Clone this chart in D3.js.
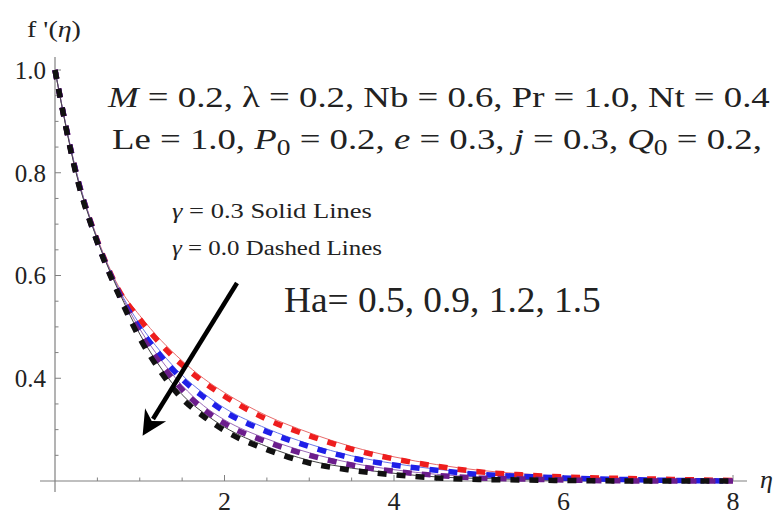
<!DOCTYPE html>
<html>
<head>
<meta charset="utf-8">
<script src="https://cdn.jsdelivr.net/npm/d3@7"></script>
<style>
  body { margin: 0; background: #fff; }
</style>
</head>
<body>
<div id="chart"></div>
<script>
// eta grid and f'(eta) values
var eta = [0, 0.25, 0.5, 0.75, 1, 1.25, 1.5, 1.75, 2, 2.5, 3, 3.5, 4, 4.5, 5, 5.5, 6, 7, 8]

// gamma = 0.0 (dashed)
var dash05 = [1.0, 0.800, 0.668, 0.572, 0.515, 0.466, 0.426, 0.393, 0.365, 0.320, 0.288, 0.262, 0.243, 0.229, 0.218, 0.212, 0.208, 0.204, 0.201]
var dash09 = [1.0, 0.800, 0.666, 0.568, 0.497, 0.443, 0.398, 0.364, 0.335, 0.296, 0.267, 0.245, 0.231, 0.221, 0.213, 0.209, 0.206, 0.202, 0.200]
var dash12 = [1.0, 0.798, 0.665, 0.566, 0.488, 0.428, 0.378, 0.340, 0.312, 0.276, 0.250, 0.231, 0.219, 0.211, 0.206, 0.204, 0.202, 0.200, 0.200]
var dash15 = [1.0, 0.796, 0.664, 0.563, 0.478, 0.412, 0.360, 0.326, 0.298, 0.261, 0.235, 0.221, 0.212, 0.206, 0.203, 0.202, 0.201, 0.200, 0.200]

// gamma = 0.3 (solid)
var solid05 = [1.0, 0.803, 0.673, 0.579, 0.522, 0.474, 0.434, 0.400, 0.372, 0.327, 0.294, 0.267, 0.247, 0.232, 0.221, 0.214, 0.209, 0.205, 0.201]
var solid09 = [1.0, 0.803, 0.671, 0.575, 0.505, 0.451, 0.406, 0.371, 0.342, 0.302, 0.272, 0.249, 0.234, 0.223, 0.215, 0.210, 0.207, 0.203, 0.200]
var solid12 = [1.0, 0.801, 0.670, 0.573, 0.496, 0.436, 0.386, 0.347, 0.319, 0.282, 0.255, 0.235, 0.222, 0.213, 0.208, 0.205, 0.203, 0.201, 0.200]
var solid15 = [1.0, 0.799, 0.669, 0.570, 0.486, 0.420, 0.368, 0.333, 0.305, 0.267, 0.240, 0.225, 0.215, 0.208, 0.205, 0.203, 0.201, 0.200, 0.200]

var dashColors = ["#ee1d1d", "#1f1fe8", "#6b1d8c", "#111111"]
var solidColors = ["#e86a6a", "#6a78e8", "#9b6ab8", "#444444"]

var xMajor = [2, 4, 6, 8]
var yMajor = [0.4, 0.6, 0.8, 1.0]
var yLabels = ["0.4", "0.6", "0.8", "1.0"]

var width = 780
var height = 515
var serif = "'Liberation Serif', 'Times New Roman', Times, serif"

var svg = d3.select("#chart").append("svg")
    .attr("width", width)
    .attr("height", height)
    .attr("font-family", serif)
    .style("font-family", serif)

var x = d3.scaleLinear().domain([0, 8]).range([55, 733])
var y = d3.scaleLinear().domain([0.2, 1.0]).range([481, 70])

var axisColor = "#808080"
var textColor = "#222"

// axes lines
svg.append("line")
    .attr("x1", 40).attr("x2", 747)
    .attr("y1", y(0.2)).attr("y2", y(0.2))
    .attr("stroke", axisColor).attr("stroke-width", 1.2)
svg.append("line")
    .attr("x1", x(0)).attr("x2", x(0))
    .attr("y1", 57).attr("y2", 492)
    .attr("stroke", axisColor).attr("stroke-width", 1.2)

// x ticks (drawn inward, upward)
var xMinor = d3.range(0.5, 8.01, 0.5)
svg.selectAll(".xtick").data(xMinor).enter().append("line")
    .attr("x1", d => x(d)).attr("x2", d => x(d))
    .attr("y1", y(0.2))
    .attr("y2", d => y(0.2) - (d % 2 === 0 ? 6 : 3.5))
    .attr("stroke", axisColor)
svg.selectAll(".xlab").data(xMajor).enter().append("text")
    .attr("x", d => x(d)).attr("y", 510)
    .attr("text-anchor", "middle")
    .attr("font-size", 26)
    .attr("fill", textColor)
    .text(d => d)

// y ticks (drawn inward, right)
var yMinor = d3.range(0.25, 1.026, 0.05)
svg.selectAll(".ytick").data(yMinor).enter().append("line")
    .attr("x1", x(0)).attr("x2", d => x(0) + (Math.abs(Math.round(d * 20) % 4) === 0 ? 6 : 3.5))
    .attr("y1", d => y(d)).attr("y2", d => y(d))
    .attr("stroke", axisColor)
svg.selectAll(".ylab").data(yMajor).enter().append("text")
    .attr("x", 46).attr("y", d => y(d))
    .attr("dy", "0.35em")
    .attr("text-anchor", "end")
    .attr("font-size", 25)
    .attr("fill", textColor)
    .text((d, i) => yLabels[i])

// curves
var line = d3.line()
    .x(d => x(d[0]))
    .y(d => y(d[1]))
    .curve(d3.curveMonotoneX)

var solids = [solid05, solid09, solid12, solid15]
var dashes = [dash05, dash09, dash12, dash15]

solids.forEach(function(s, i) {
    svg.append("path")
        .attr("d", line(eta.map((e, k) => [e, s[k]])))
        .attr("fill", "none")
        .attr("stroke", solidColors[i])
        .attr("stroke-width", 1)
})
dashes.forEach(function(s, i) {
    svg.append("path")
        .attr("d", line(eta.map((e, k) => [e, s[k]])))
        .attr("fill", "none")
        .attr("stroke", dashColors[i])
        .attr("stroke-width", 5.5)
        .attr("stroke-dasharray", "9,10")
})

// arrow
svg.append("defs").append("marker")
    .attr("id", "head")
    .attr("viewBox", "0 0 10 10")
    .attr("refX", 2).attr("refY", 5)
    .attr("markerWidth", 6).attr("markerHeight", 5.5)
    .attr("markerUnits", "strokeWidth")
    .attr("orient", "auto")
    .append("path")
    .attr("d", "M0,0 L10,5 L0,10 L3,5 Z")
    .attr("fill", "#000")
svg.append("line")
    .attr("x1", 237).attr("y1", 283)
    .attr("x2", 153).attr("y2", 419)
    .attr("stroke", "#000").attr("stroke-width", 4.5)
    .attr("marker-end", "url(#head)")

// text helper: stretch text horizontally to fit a given span
function fitText(node, x0, x1) {
    var w = node.node().getComputedTextLength()
    var yPos = +node.attr("y")
    node.attr("x", 0).attr("y", 0)
        .attr("transform", "translate(" + x0 + "," + yPos + ") scale(" + ((x1 - x0) / w) + ",1)")
}

function addLine(parts, size, yPos, x0, x1) {
    var t = svg.append("text").attr("y", yPos).attr("font-size", size).attr("fill", textColor)
    parts.forEach(function(p) {
        var s = t.append("tspan").text(p.t)
        if (p.i) s.attr("font-style", "italic")
        if (p.sub) s.attr("font-size", size * 0.75).attr("dy", size * 0.2)
        if (p.up) s.attr("dy", -size * 0.2)
    })
    fitText(t, x0, x1)
    return t
}

addLine([
    {t: "M", i: true}, {t: " = 0.2,  \u03bb = 0.2,  Nb  =  0.6,  Pr = 1.0,  Nt = 0.4"}
], 30, 107, 108, 770)

addLine([
    {t: "Le = 1.0,  "}, {t: "P", i: true}, {t: "0", sub: true},
    {t: " = 0.2,  ", up: true}, {t: "e", i: true}, {t: " = 0.3,  "},
    {t: "j", i: true}, {t: " = 0.3,  "}, {t: "Q", i: true}, {t: "0", sub: true},
    {t: " = 0.2,", up: true}
], 30, 149, 112, 762)

addLine([{t: "\u03b3", i: true}, {t: " = 0.3 Solid Lines"}], 20, 218, 172, 372)
addLine([{t: "\u03b3", i: true}, {t: " = 0.0   Dashed Lines"}], 20, 255, 172, 382)

addLine([{t: "Ha= 0.5, 0.9, 1.2, 1.5"}], 35, 312, 284, 601)

addLine([{t: "f '("}, {t: "\u03b7", i: true}, {t: ")"}], 23, 37, 27, 81)

svg.append("text")
    .attr("x", 760).attr("y", 488)
    .attr("font-size", 26)
    .attr("font-style", "italic")
    .attr("fill", textColor)
    .text("\u03b7")
</script>
</body>
</html>
